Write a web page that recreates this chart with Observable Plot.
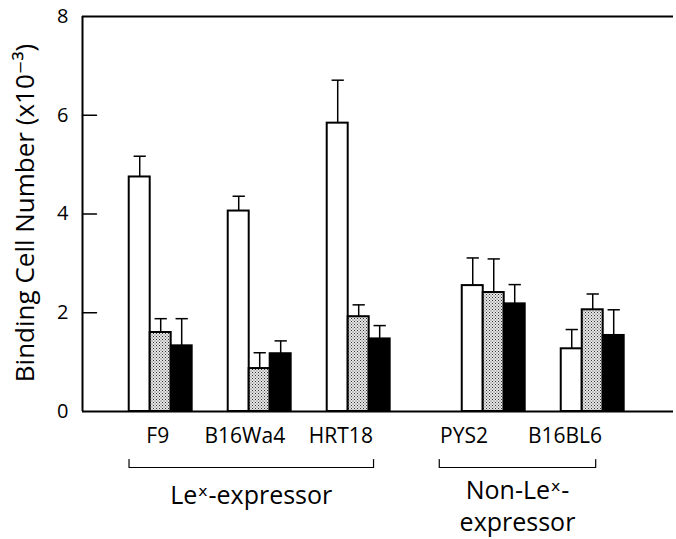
<!DOCTYPE html>
<html><head><meta charset="utf-8">
<script src="https://cdn.jsdelivr.net/npm/d3@7"></script>
<script src="https://cdn.jsdelivr.net/npm/@observablehq/plot@0.6"></script>
<style>body{margin:0;background:#fff;} #chart svg{display:block}</style>
</head><body><div id="chart"></div>
<script>
// ---- data ----
const groups = ["F9", "B16Wa4", "HRT18", "PYS2", "B16BL6"];
const seriesNames = ["open", "stippled", "solid"];
const openVals     = [4.75, 4.06, 5.84, 2.55, 1.27];
const stippledVals = [1.60, 0.87, 1.92, 2.41, 2.06];
const solidVals    = [1.33, 1.17, 1.47, 2.18, 1.54];
const openErr      = [0.42, 0.30, 0.87, 0.56, 0.39];
const stippledErr  = [0.28, 0.32, 0.24, 0.68, 0.32];
const solidErr     = [0.55, 0.26, 0.27, 0.39, 0.52];
const classLabels  = ["Le\u02E3-expressor", "Non-Le\u02E3-\nexpressor"];
const classMembers = [["F9", "B16Wa4", "HRT18"], ["PYS2", "B16BL6"]];
const yTicks = [0, 2, 4, 6, 8];
const yTitle = "Binding Cell Number (x10\u207B\u00B3)";

// ---- layout ----
const FONT = "'Open Sans', 'DejaVu Sans', sans-serif";
const GAP = 0.364;          // extra space between the two classes
const BW = 0.212;           // bar width in group units
const CAP = 0.062;          // half-width of error caps
const xDomain = [-0.79, 5.18];
const labelNudge = [-0.03, -0.15, -0.18, -0.30, -0.28];
const bracketPad = [[-0.32, 0.15], [-0.55, 0.03]];
const classDy = [75, 64];
const pos = i => i + (i >= 3 ? GAP : 0);

const vals = [openVals, stippledVals, solidVals];
const errs = [openErr, stippledErr, solidErr];
const rows = groups.flatMap((g, i) => seriesNames.map((s, j) => ({
  group: g, series: s, i, j, value: vals[j][i], err: errs[j][i]
})));
const xc = d => pos(d.i) + (d.j - 1) * BW;
const groupRows = groups.map((g, i) => ({group: g, x: pos(i) + labelNudge[i]}));
const brackets = classLabels.map((label, k) => {
  const idx = classMembers[k].map(g => groups.indexOf(g));
  const x1 = pos(Math.min(...idx)) + bracketPad[k][0];
  const x2 = pos(Math.max(...idx)) + bracketPad[k][1];
  return {label, k, x1, x2, mid: (x1 + x2) / 2};
});
const bracketEnds = brackets.flatMap(b => [b.x1, b.x2]);
const lineShape = {draw(ctx, l) { ctx.moveTo(0, 0); ctx.lineTo(0, -l); }};

const barMark = (name, fill) => Plot.rect(rows.filter(d => d.series === name), {
  x1: d => xc(d) - BW / 2, x2: d => xc(d) + BW / 2, y1: 0, y2: "value",
  fill, stroke: "black", strokeWidth: 2
});

const chart = Plot.plot({
  width: 676, height: 539,
  marginLeft: 82, marginRight: 3, marginTop: 16, marginBottom: 128,
  style: {fontFamily: FONT, color: "black", background: "white"},
  x: {type: "linear", domain: xDomain, axis: null},
  y: {domain: [0, 8], axis: null},
  marks: [
    barMark("open", "white"),
    barMark("stippled", "url(#stipple)"),
    barMark("solid", "black"),
    Plot.link(rows, {x1: xc, x2: xc, y1: "value", y2: d => d.value + d.err, stroke: "black", strokeWidth: 1.5}),
    Plot.link(rows, {x1: d => xc(d) - CAP, x2: d => xc(d) + CAP, y1: d => d.value + d.err, y2: d => d.value + d.err, stroke: "black", strokeWidth: 1.5}),
    Plot.ruleY([0, 8], {stroke: "black", strokeWidth: 2}),
    Plot.ruleX([xDomain[0]], {y1: 0, y2: 8, stroke: "black", strokeWidth: 2}),
    // inward y ticks
    Plot.vector(yTicks.slice(1, -1), {x: () => xDomain[0], y: d => d, rotate: 90, length: 14, anchor: "start", shape: lineShape, stroke: "black", strokeWidth: 1.5}),
    // y tick labels
    Plot.text(yTicks, {y: d => d, frameAnchor: "left", dx: -14, textAnchor: "end", text: d => String(d), fontSize: 20}),
    // y title
    Plot.text([yTitle], {frameAnchor: "left", dx: -57, dy: -1, rotate: -90, textAnchor: "middle", text: d => d, fontSize: 26}),
    // group labels
    Plot.text(groupRows, {x: "x", frameAnchor: "bottom", text: "group", dy: 17, lineAnchor: "top", fontSize: 21}),
    // brackets
    Plot.link(brackets, {x1: "x1", x2: "x2", y1: () => 0, y2: () => 0, dy: 56, stroke: "black", strokeWidth: 1.2}),
    Plot.vector(bracketEnds, {x: d => d, y: () => 0, dy: 56, length: 8, anchor: "start", shape: lineShape, stroke: "black", strokeWidth: 1.2}),
    Plot.text(brackets.filter(b => b.k === 0), {x: "mid", frameAnchor: "bottom", text: "label", dy: classDy[0], lineAnchor: "top", fontSize: 25}),
    Plot.text(brackets.filter(b => b.k === 1), {x: "mid", frameAnchor: "bottom", text: "label", dy: classDy[1], lineAnchor: "top", fontSize: 25, lineHeight: 1.3})
  ]
});

// stipple pattern for the middle series
const ns = "http://www.w3.org/2000/svg";
const defs = document.createElementNS(ns, "defs");
defs.innerHTML = `<pattern id="stipple" width="3" height="3" patternUnits="userSpaceOnUse">
  <rect width="3" height="3" fill="#e6e6e6"/>
  <rect x="0" y="0" width="1" height="1" fill="#333"/>
  <rect x="1.5" y="1.5" width="1" height="1" fill="#555"/>
</pattern>`;
chart.insertBefore(defs, chart.firstChild);
document.getElementById("chart").appendChild(chart);
</script>
</body></html>
